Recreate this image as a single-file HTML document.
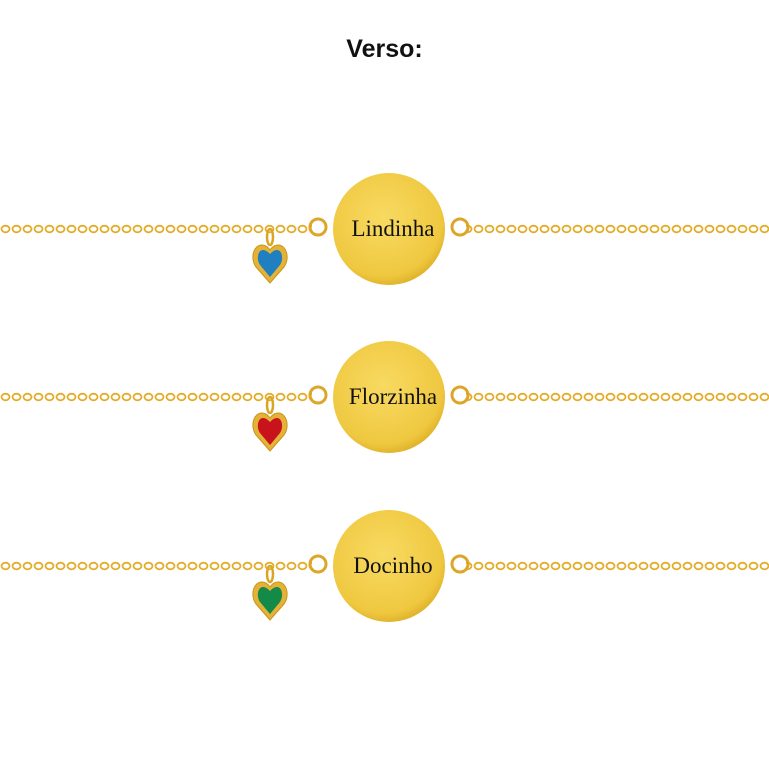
<!DOCTYPE html>
<html><head><style>
html,body{margin:0;padding:0;background:#fff;width:769px;height:769px;overflow:hidden}
</style></head><body>
<svg width="769" height="769" viewBox="0 0 769 769" xmlns="http://www.w3.org/2000/svg">
<defs>
<radialGradient id="g" cx="45%" cy="40%" r="65%">
<stop offset="0" stop-color="#f8da62"/><stop offset="0.8" stop-color="#efc840"/><stop offset="1" stop-color="#d9a922"/>
</radialGradient>
<pattern id="ch" x="0" y="-6" width="11" height="12" patternUnits="userSpaceOnUse">
<ellipse cx="5.5" cy="6" rx="4" ry="3.3" fill="none" stroke="#e3ac2a" stroke-width="1.8"/>
</pattern>
<g id="b">
<rect x="0" y="-6" width="312" height="12" fill="url(#ch)"/>
<rect x="466" y="-6" width="303" height="12" fill="url(#ch)"/>
<circle cx="318" cy="-2" r="8" fill="none" stroke="#dca628" stroke-width="3"/>
<circle cx="460" cy="-2" r="8" fill="none" stroke="#dca628" stroke-width="3"/>
<circle cx="389" cy="0" r="56" fill="url(#g)"/>
<ellipse cx="270" cy="8" rx="3" ry="8" fill="none" stroke="#d9a524" stroke-width="2.5"/>
<path d="M270 54 L256 38 C250 30 253 16 262 16 C265 16 268 18 270 21 C272 18 275 16 278 16 C287 16 290 30 284 38 Z" fill="#e4b236" stroke="#c8951c" stroke-width="1"/>
</g>
</defs>
<text x="384.5" y="57" text-anchor="middle" font-family="Liberation Sans, sans-serif" font-size="25" font-weight="bold" fill="#111">Verso:</text>

<use href="#b" y="229"/>
<path d="M270 277 L260 265 C256 259 258 250 263 250 C266 250 268 252 270 254 C272 252 274 250 277 250 C282 250 284 259 280 265 Z" fill="#1f7fc0"/>
<text x="393" y="236" text-anchor="middle" font-family="Liberation Serif, serif" font-size="23" fill="#111">Lindinha</text>

<use href="#b" y="397"/>
<path d="M270 445 L260 433 C256 427 258 418 263 418 C266 418 268 420 270 422 C272 420 274 418 277 418 C282 418 284 427 280 433 Z" fill="#c8131c"/>
<text x="393" y="404" text-anchor="middle" font-family="Liberation Serif, serif" font-size="23" fill="#111">Florzinha</text>

<use href="#b" y="566"/>
<path d="M270 614 L260 602 C256 596 258 587 263 587 C266 587 268 589 270 591 C272 589 274 587 277 587 C282 587 284 596 280 602 Z" fill="#138a47"/>
<text x="393" y="573" text-anchor="middle" font-family="Liberation Serif, serif" font-size="23" fill="#111">Docinho</text>
</svg>
</body></html>
